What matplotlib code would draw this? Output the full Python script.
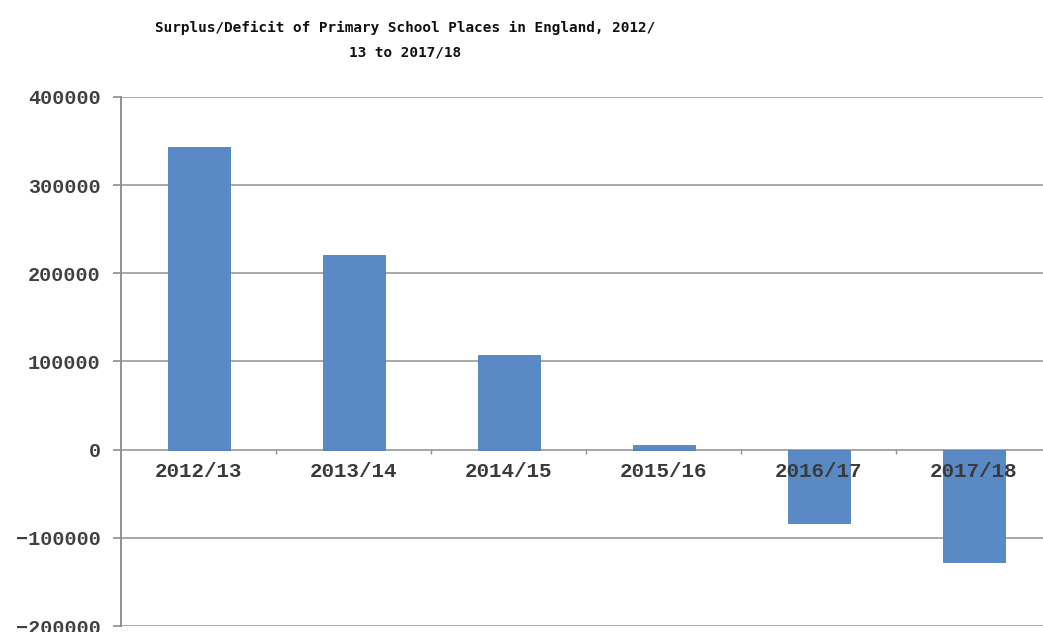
import matplotlib
matplotlib.use("Agg")
import matplotlib.pyplot as plt
from matplotlib.ticker import FixedLocator

categories = ["2012/13", "2013/14", "2014/15", "2015/16", "2016/17", "2017/18"]
values = [343500, 221000, 107500, 5500, -83000, -127500]
yticks = [-200000, -100000, 0, 100000, 200000, 300000, 400000]
title = "Surplus/Deficit of Primary School Places in England, 2012/\n13 to 2017/18"

fig = plt.figure(figsize=(10.43, 6.32), dpi=100)
ax = fig.add_axes([121/1043, 1 - 626/632, 930/1043, (626 - 97)/632])

# spines first (set_position resets ticks)
for s in ["top", "right"]:
    ax.spines[s].set_visible(False)
ax.spines["bottom"].set_position(("data", 0))
ax.spines["bottom"].set_color("#a8a8a8")
ax.spines["bottom"].set_linewidth(1.4)
ax.spines["bottom"].set_zorder(1)
ax.spines["left"].set_color("#909090")
ax.spines["left"].set_linewidth(1.4)

x = list(range(len(categories)))
ax.bar(x, values, width=0.4, color="#5a8ac6", edgecolor="#4f7fbf", linewidth=0.6, zorder=2)

ax.set_xlim(-0.5, len(categories) - 0.5)
ax.set_ylim(yticks[0], yticks[-1])
ax.set_yticks(yticks)
ax.set_yticklabels([str(v).replace("-", "\u2212") for v in yticks],
                   fontsize=14.5, color="#404040", family="Liberation Mono", weight="bold")
ax.yaxis.grid(True, color="#a8a8a8", linewidth=1.4)
ax.yaxis.set_zorder(0.5)
ax.xaxis.set_zorder(5)
ax.tick_params(axis="y", length=5.5, width=1.2, color="#909090", pad=9)

ax.set_xticks(x)
ax.set_xticklabels(categories, fontsize=15, family="Liberation Mono", color="#3a3a3a", weight="bold")
ax.xaxis.set_minor_locator(FixedLocator([i + 0.5 for i in x[:-1]]))
ax.tick_params(axis="x", which="major", length=0, pad=9)
ax.tick_params(axis="x", which="minor", length=3, width=1, color="#909090")

fig.text(405/1043, 1 - 40/632, title, ha="center", va="center", fontsize=10.4,
         family="DejaVu Sans Mono", weight="bold", color="#111111", linespacing=1.95)

fig.savefig("out.png", dpi=100)
